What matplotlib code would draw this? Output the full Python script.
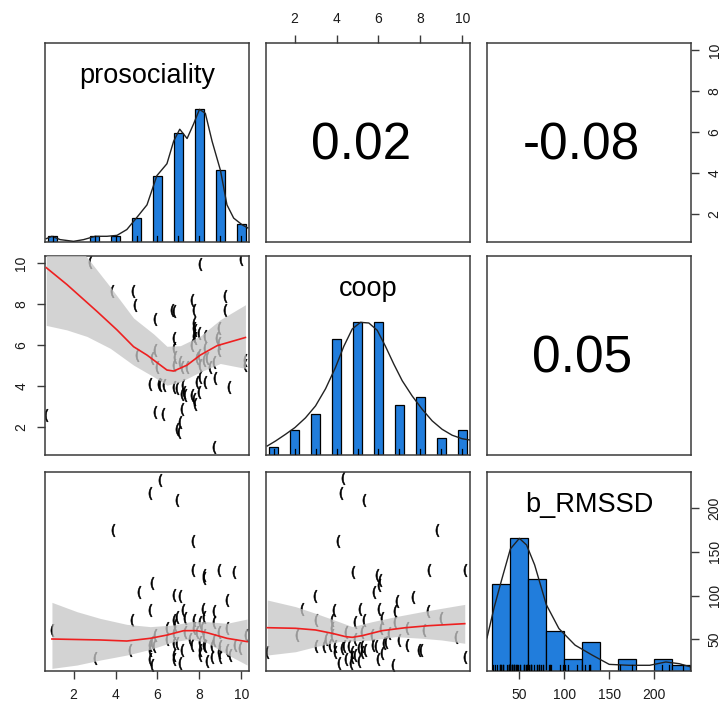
import numpy as np
import matplotlib
matplotlib.use("Agg")
import matplotlib.pyplot as plt

plt.rcParams['font.family'] = ['Liberation Sans', 'DejaVu Sans']

# ---------------- data ----------------
var_names = ["prosociality", "coop", "b_RMSSD"]
corr_labels = {"r12": "0.02", "r13": "-0.08", "r23": "0.05"}

pro_values = [1, 3, 4, 5, 6, 7, 8, 9, 10]
pro_counts = [1, 1, 1, 4, 11, 18, 22, 12, 3]
coop_values = [1, 2, 3, 4, 5, 6, 7, 8, 9, 10]
coop_counts = [1, 3, 5, 14, 16, 16, 6, 7, 2, 3]
rmssd_edges = [20, 40, 60, 80, 100, 120, 140, 160, 180, 200, 220, 240]
rmssd_counts = [15, 23, 16, 7, 2, 5, 0, 2, 0, 2, 1]

# density curves (scaled to max 1)
pro_dens_x = [0.70, 0.97, 1.36, 2.0, 2.48, 3.03, 3.59, 4.07, 4.54, 4.99, 5.50, 5.97,
              6.45, 6.77, 7.06, 7.41, 7.72, 8.0, 8.28, 8.6, 9.0, 9.31, 9.63, 10.03, 10.3]
pro_dens_y = [0.025, 0.043, 0.018, 0.005, 0.018, 0.043, 0.043, 0.05, 0.094, 0.18, 0.28, 0.50,
              0.59, 0.76, 0.85, 0.78, 0.89, 1.0, 0.97, 0.76, 0.54, 0.28, 0.18, 0.13, 0.106]
coop_dens_x = [0.70, 1.10, 1.57, 2.02, 2.52, 3.0, 3.48, 3.95, 4.35, 4.75, 5.14, 5.54, 5.94,
               6.33, 6.73, 7.13, 7.60, 8.08, 8.56, 9.03, 9.51, 9.98, 10.35]
coop_dens_y = [0.068, 0.106, 0.156, 0.207, 0.28, 0.37, 0.50, 0.66, 0.82, 0.95, 1.0, 0.995, 0.94,
               0.82, 0.685, 0.56, 0.446, 0.345, 0.257, 0.194, 0.149, 0.123, 0.113]
rmssd_dens_x = [14, 22, 30, 40, 50, 58, 67, 80, 94, 112, 131, 150, 172, 195, 213, 228, 241]
rmssd_dens_y = [0.25, 0.48, 0.68, 0.92, 1.0, 0.95, 0.80, 0.50, 0.32, 0.195, 0.12, 0.05, 0.043,
                0.043, 0.068, 0.055, 0.03]

# scatter: prosociality (x) vs coop (y)
pc_x = [2.79, 8.04, 9.98, 3.83, 4.81, 4.94, 5.86, 6.69, 6.77, 7.64, 7.72, 7.72, 7.80, 7.72, 7.80,
        9.23, 9.23, 8.92, 8.28, 6.77, 6.77, 7.64, 5.02, 5.90, 6.85, 7.96, 8.36, 8.84, 10.15, 8.92,
        5.66, 6.05, 6.29, 6.93, 7.21, 7.25, 7.33, 7.64, 7.88, 7.96, 8.28, 8.76, 9.39, 7.80, 7.17,
        5.90, 6.24, 6.93, 7.01, 8.68, 0.70, 7.09, 7.17, 8.04, 8.20, 8.68, 5.97, 6.77, 10.15, 7.72,
        8.04, 7.72, 5.74, 8.28, 7.41, 7.17, 6.77, 6.13, 7.88, 8.52, 7.09, 7.96, 8.92]
pc_y = [10.08, 9.95, 10.2, 8.64, 8.67, 7.95, 7.28, 7.74, 7.66, 8.23, 7.74, 7.08, 6.75, 6.43, 6.34,
        8.39, 7.74, 6.84, 6.43, 6.34, 5.85, 6.02, 5.52, 5.77, 5.44, 5.52, 5.36, 6.34, 5.28, 5.77,
        4.13, 4.13, 4.08, 3.89, 4.05, 3.72, 3.56, 3.56, 4.21, 3.72, 4.21, 4.38, 3.97, 3.15, 2.90,
        2.74, 2.66, 1.92, 1.75, 1.02, 2.61, 5.20, 4.95, 5.03, 5.28, 5.20, 4.95, 5.03, 5.03, 3.39,
        4.46, 6.84, 5.36, 5.85, 4.95, 3.64, 3.97, 4.05, 5.36, 4.95, 2.25, 6.59, 6.10]
pc_fit_x = [0.70, 1.68, 3.11, 4.07, 4.86, 5.50, 6.45, 6.77, 7.41, 8.04, 8.84, 10.19]
pc_fit_y = [9.79, 8.97, 7.66, 6.75, 5.93, 5.52, 4.79, 4.74, 5.03, 5.52, 5.98, 6.38]
pc_ci_x = [0.70, 1.68, 2.64, 3.75, 4.86, 5.82, 6.45, 7.09, 8.04, 8.99, 10.19]
pc_ci_lo = [6.97, 6.75, 6.43, 5.85, 5.03, 4.46, 4.05, 4.21, 4.70, 5.11, 4.87]
pc_ci_hi = [12.6, 11.4, 10.3, 8.85, 7.33, 6.55, 5.95, 5.98, 6.45, 7.25, 7.98]

# scatter: prosociality (x) vs b_RMSSD (y)
pr_x = [6.10, 5.62, 6.93, 3.88, 7.68, 7.70, 8.23, 8.23, 8.92, 9.63, 5.74, 5.10, 6.77, 7.09, 9.31,
        5.66, 7.21, 8.17, 8.68, 4.78, 7.33, 7.72, 8.04, 0.97, 6.45, 6.77, 6.85, 8.12, 8.92, 9.31,
        10.2, 3.03, 4.70, 5.66, 5.82, 6.77, 6.93, 8.04, 8.20, 8.28, 8.60, 8.99, 9.31, 9.95, 5.66,
        5.74, 6.77, 6.77, 7.09, 8.04, 8.60, 8.92, 8.20, 8.68, 7.57, 6.45, 5.90, 7.33, 7.88, 8.68,
        7.72, 7.17, 5.66, 9.71, 8.36, 8.99, 6.77, 8.04, 5.74, 7.64, 9.47, 8.20, 6.93]
pr_y = [232, 217, 209, 175, 162, 129, 123, 120, 129, 127, 114, 104, 101, 99, 95,
        84, 84, 85, 83, 72, 74, 72, 70, 61, 63, 72, 66, 63, 59, 63,
        55, 29, 38, 44, 42, 46, 46, 47, 44, 42, 42, 42, 38, 40, 28,
        21, 32, 28, 23, 32, 30, 36, 55, 49, 51, 51, 55, 59, 59, 70,
        63, 38, 38, 44, 25, 30, 57, 38, 47, 44, 32, 76, 76]
pr_fit_x = [0.97, 3.27, 4.54, 5.66, 6.45, 7.25, 7.88, 8.36, 9.31, 10.27]
pr_fit_y = [50.5, 49.4, 48.2, 51.3, 55, 60, 60, 57.7, 51.3, 47.5]
pr_ci_x = [0.97, 2.16, 3.27, 4.54, 5.66, 6.77, 7.57, 8.36, 9.31, 10.27]
pr_ci_lo = [17, 20.8, 26.5, 32.2, 38.7, 47.5, 50.5, 46.3, 33, 20.8]
pr_ci_hi = [92.3, 81.7, 74, 67.2, 64.6, 66.5, 70.3, 70.3, 68.4, 73.3]

# scatter: coop (x) vs b_RMSSD (y)
cr_x = [4.30, 4.22, 5.30, 8.79, 4.08, 4.78, 8.40, 10.11, 5.94, 6.05, 6.02, 5.78, 2.97, 6.89, 7.63,
        2.37, 3.87, 5.14, 6.02, 6.78, 8.37, 3.0, 3.79, 4.90, 5.30, 6.17, 8.98, 2.13, 3.79, 4.43,
        5.22, 6.10, 7.37, 8.16, 9.67, 3.0, 3.40, 3.71, 3.95, 4.24, 4.35, 4.75, 5.06, 5.22, 5.73,
        6.25, 6.37, 6.97, 7.37, 7.92, 8.03, 4.11, 4.67, 4.75, 4.90, 5.22, 6.0, 6.17, 6.71, 10.11,
        0.70, 3.79, 3.48, 5.70, 4.90, 6.49, 6.81, 4.59, 5.38, 3.95, 4.43, 5.86, 5.06]
cr_y = [234, 217, 209, 175, 162, 127, 129, 129, 123, 118, 112, 104, 99, 94, 98,
        85, 84, 85, 85, 82, 82, 72, 72, 70, 72, 74, 74, 55, 63, 59,
        59, 63, 63, 61, 53, 42, 42, 44, 42, 40, 42, 36, 40, 42, 44,
        46, 47, 49, 44, 38, 38, 23, 23, 30, 32, 36, 28, 34, 21, 30,
        36, 55, 51, 55, 51, 57, 70, 42, 38, 36, 28, 42, 25]
cr_fit_x = [0.70, 2.05, 3.0, 3.79, 4.43, 4.75, 5.22, 6.17, 7.29, 8.40, 10.11]
cr_fit_y = [63.4, 62.7, 60.8, 57, 53.2, 52.4, 54.3, 60, 63.4, 65.7, 68]
cr_ci_x = [0.70, 2.05, 3.0, 4.11, 4.75, 5.70, 6.81, 8.08, 9.0, 10.11]
cr_ci_lo = [32.2, 36, 41.8, 47.5, 48.2, 49.4, 53.2, 51.3, 49.4, 45.6]
cr_ci_hi = [95, 87.4, 79.8, 70.3, 64.6, 70.3, 76, 81.7, 85.5, 90]

pro_lim = (0.64, 10.36)
coop_lim = (0.64, 10.36)
rmssd_lim = (14, 241)
int_ticks = [2, 4, 6, 8, 10]
rmssd_ticks = [50, 100, 150, 200]

# ---------------- layout ----------------
W, H = 721, 704
fig = plt.figure(figsize=(W / 100, H / 100), dpi=100)
col_x = [45, 266, 487]
row_top = [43, 256, 472]
pw, ph = 204, 199

BAR = "#217DDC"
BOX = "#3a3a3a"
TXT = "#1a1a1a"


def make_ax(r, c):
    ax = fig.add_axes([col_x[c] / W, 1 - (row_top[r] + ph) / H, pw / W, ph / H])
    for s in ax.spines.values():
        s.set_color(BOX)
        s.set_linewidth(1.1)
    ax.set_xticks([])
    ax.set_yticks([])
    return ax


def style_ticks(ax):
    ax.tick_params(length=6, width=1.0, color=BOX, labelsize=10, labelcolor=TXT, pad=6)


def diag(ax, centers, counts, width, dx, dy, lim, title, rug, edges=None):
    ax.set_xlim(*lim)
    ax.set_ylim(0, 1.5)
    m = max(counts)
    if edges is None:
        ax.bar(centers, [c / m for c in counts], width=width, color=BAR,
               edgecolor="black", linewidth=0.9, zorder=2)
    else:
        ax.bar(edges[:-1], [c / m for c in counts], width=np.diff(edges), align="edge",
               color=BAR, edgecolor="black", linewidth=0.9, zorder=2)
    ax.plot(dx, dy, color="#222222", lw=1.0, zorder=3)
    for v in rug:
        ax.plot([v, v], [0, 0.045], color="black", lw=0.9, zorder=4)
    ax.text(0.5, 0.835, title, transform=ax.transAxes, ha="center", va="center",
            fontsize=19.5, color="black")


def scatter(ax, x, y, fx, fy, cx, lo, hi, xlim, ylim):
    ax.set_xlim(*xlim)
    ax.set_ylim(*ylim)
    ax.plot(x, y, linestyle="none", marker="$($", markersize=9, color="black",
            markeredgewidth=0.45, zorder=2)
    ax.fill_between(cx, lo, hi, color=(0.775, 0.775, 0.775), alpha=0.76, linewidth=0, zorder=3)
    ax.plot(fx, fy, color="#ee2020", lw=1.2, zorder=4)


def corr(ax, txt):
    ax.text(0.465, 0.48, txt, transform=ax.transAxes, ha="center", va="center",
            fontsize=37, color="black")


# row 1
a11 = make_ax(0, 0)
pro_rug = [v for v, c in zip(pro_values, pro_counts) for _ in range(c)]
diag(a11, pro_values, pro_counts, 0.4, pro_dens_x, pro_dens_y, pro_lim, var_names[0], sorted(set(pro_rug)))

a12 = make_ax(0, 1)
a12.set_xlim(*coop_lim)
a12.set_ylim(*pro_lim)
corr(a12, corr_labels["r12"])
a12.xaxis.tick_top()
a12.set_xticks(int_ticks)
a12.set_xticklabels([str(t) for t in int_ticks])
style_ticks(a12)

a13 = make_ax(0, 2)
a13.set_xlim(*rmssd_lim)
a13.set_ylim(*pro_lim)
corr(a13, corr_labels["r13"])
a13.yaxis.tick_right()
a13.set_yticks(int_ticks)
a13.set_yticklabels([str(t) for t in int_ticks], rotation=90, va="center")
style_ticks(a13)

# row 2
a21 = make_ax(1, 0)
scatter(a21, pc_x, pc_y, pc_fit_x, pc_fit_y, pc_ci_x, pc_ci_lo, pc_ci_hi, pro_lim, coop_lim)
a21.set_yticks(int_ticks)
a21.set_yticklabels([str(t) for t in int_ticks], rotation=90, va="center")
style_ticks(a21)

a22 = make_ax(1, 1)
diag(a22, coop_values, coop_counts, 0.45, coop_dens_x, coop_dens_y, coop_lim, var_names[1], coop_values)

a23 = make_ax(1, 2)
a23.set_xlim(*rmssd_lim)
a23.set_ylim(*coop_lim)
corr(a23, corr_labels["r23"])

# row 3
a31 = make_ax(2, 0)
scatter(a31, pr_x, pr_y, pr_fit_x, pr_fit_y, pr_ci_x, pr_ci_lo, pr_ci_hi, pro_lim, rmssd_lim)
a31.set_xticks(int_ticks)
a31.set_xticklabels([str(t) for t in int_ticks])
style_ticks(a31)

a32 = make_ax(2, 1)
scatter(a32, cr_x, cr_y, cr_fit_x, cr_fit_y, cr_ci_x, cr_ci_lo, cr_ci_hi, coop_lim, rmssd_lim)

a33 = make_ax(2, 2)
diag(a33, None, rmssd_counts, None, rmssd_dens_x, rmssd_dens_y, rmssd_lim, var_names[2], pr_y,
     edges=rmssd_edges)
a33t = a33.twinx()
a33t.set_ylim(*rmssd_lim)
a33t.set_yticks(rmssd_ticks)
a33t.set_yticklabels([str(t) for t in rmssd_ticks], rotation=90, va="center")
for s in a33t.spines.values():
    s.set_visible(False)
style_ticks(a33t)
a33.set_xticks(rmssd_ticks)
a33.set_xticklabels([str(t) for t in rmssd_ticks])
style_ticks(a33)

fig.savefig("out.png", dpi=100)
